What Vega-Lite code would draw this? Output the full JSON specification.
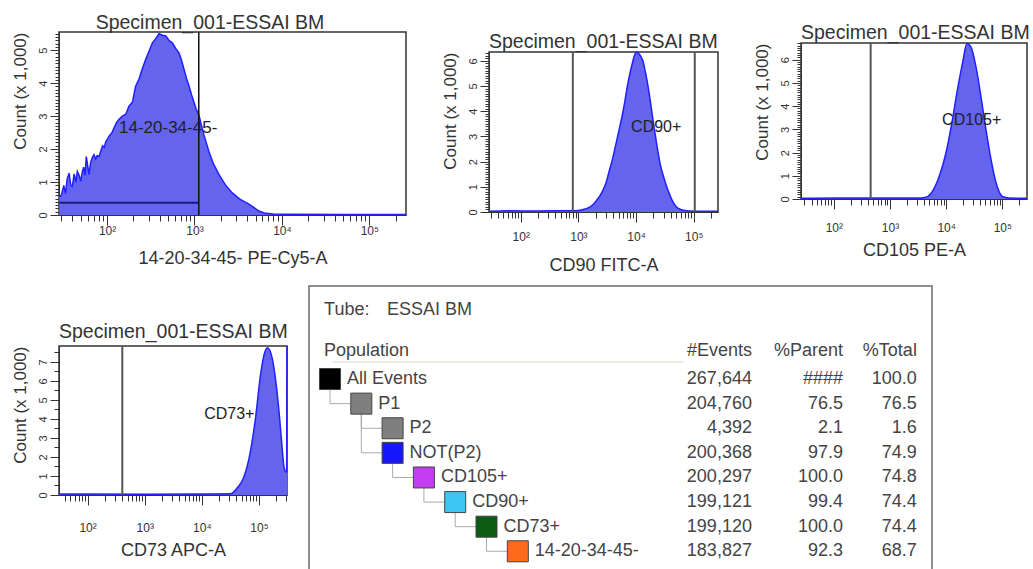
{
  "$schema": "https://vega.github.io/schema/vega-lite/v6.json",
  "background": "white",
  "padding": {"left": 10, "top": 11, "right": 0, "bottom": 0},
  "config": {
    "font": "Liberation Sans",
    "view": {"stroke": "#333333", "strokeWidth": 1.5},
    "axis": {"grid": false, "domainColor": "#333333", "tickColor": "#333333", "labelColor": "#333333", "titleColor": "#333333", "titleFontWeight": "normal", "titleFontSize": 17, "labelFont": "Liberation Sans", "titleFont": "Liberation Sans", "labelOverlap": false, "labelFlush": false},
    "axisX": {"titleFontSize": 18},
    "title": {"fontSize": 19.5, "fontWeight": "normal", "color": "#333333", "offset": -3, "baseline": "alphabetic", "font": "Liberation Sans"}
  },
  "datasets": {
    "hist": [
      {"panel": "P1", "x": 28.3, "c": 0.55}, {"panel": "P1", "x": 30, "c": 0.6}, {"panel": "P1", "x": 32, "c": 0.9}, {"panel": "P1", "x": 33.5, "c": 0.65}, {"panel": "P1", "x": 35, "c": 1.1}, {"panel": "P1", "x": 36.8, "c": 1.27}, {"panel": "P1", "x": 38.5, "c": 0.9}, {"panel": "P1", "x": 40.1, "c": 0.87}, {"panel": "P1", "x": 42, "c": 1.25}, {"panel": "P1", "x": 44, "c": 1.0}, {"panel": "P1", "x": 45.7, "c": 1.32}, {"panel": "P1", "x": 48, "c": 1.2}, {"panel": "P1", "x": 50, "c": 1.02}, {"panel": "P1", "x": 52, "c": 1.3}, {"panel": "P1", "x": 54, "c": 1.45}, {"panel": "P1", "x": 56, "c": 1.2}, {"panel": "P1", "x": 57.9, "c": 1.77}, {"panel": "P1", "x": 60, "c": 1.5}, {"panel": "P1", "x": 62.2, "c": 1.23}, {"panel": "P1", "x": 65, "c": 1.6}, {"panel": "P1", "x": 68, "c": 1.75}, {"panel": "P1", "x": 71, "c": 1.83}, {"panel": "P1", "x": 74, "c": 1.7}, {"panel": "P1", "x": 77, "c": 1.8}, {"panel": "P1", "x": 81, "c": 1.77}, {"panel": "P1", "x": 85, "c": 1.95}, {"panel": "P1", "x": 89, "c": 2.1}, {"panel": "P1", "x": 93, "c": 2.05}, {"panel": "P1", "x": 96.6, "c": 2.22}, {"panel": "P1", "x": 101, "c": 2.3}, {"panel": "P1", "x": 106, "c": 2.4}, {"panel": "P1", "x": 110, "c": 2.45}, {"panel": "P1", "x": 115, "c": 2.52}, {"panel": "P1", "x": 120, "c": 2.64}, {"panel": "P1", "x": 128, "c": 2.8}, {"panel": "P1", "x": 137, "c": 2.9}, {"panel": "P1", "x": 150, "c": 3.0}, {"panel": "P1", "x": 164, "c": 3.06}, {"panel": "P1", "x": 178, "c": 3.3}, {"panel": "P1", "x": 195, "c": 3.42}, {"panel": "P1", "x": 212, "c": 3.9}, {"panel": "P1", "x": 232, "c": 4.12}, {"panel": "P1", "x": 250, "c": 4.4}, {"panel": "P1", "x": 277, "c": 4.72}, {"panel": "P1", "x": 300, "c": 4.95}, {"panel": "P1", "x": 330, "c": 5.22}, {"panel": "P1", "x": 360, "c": 5.35}, {"panel": "P1", "x": 393, "c": 5.5}, {"panel": "P1", "x": 430, "c": 5.45}, {"panel": "P1", "x": 469, "c": 5.43}, {"panel": "P1", "x": 510, "c": 5.3}, {"panel": "P1", "x": 558, "c": 5.22}, {"panel": "P1", "x": 610, "c": 5.05}, {"panel": "P1", "x": 665, "c": 4.92}, {"panel": "P1", "x": 710, "c": 4.7}, {"panel": "P1", "x": 759, "c": 4.42}, {"panel": "P1", "x": 810, "c": 4.15}, {"panel": "P1", "x": 865, "c": 3.92}, {"panel": "P1", "x": 925, "c": 3.65}, {"panel": "P1", "x": 987, "c": 3.42}, {"panel": "P1", "x": 1050, "c": 3.2}, {"panel": "P1", "x": 1125, "c": 3.03}, {"panel": "P1", "x": 1200, "c": 2.72}, {"panel": "P1", "x": 1284, "c": 2.43}, {"panel": "P1", "x": 1370, "c": 2.18}, {"panel": "P1", "x": 1465, "c": 1.92}, {"panel": "P1", "x": 1650, "c": 1.55}, {"panel": "P1", "x": 1905, "c": 1.23}, {"panel": "P1", "x": 2250, "c": 0.92}, {"panel": "P1", "x": 2706, "c": 0.67}, {"panel": "P1", "x": 3300, "c": 0.48}, {"panel": "P1", "x": 4200, "c": 0.33}, {"panel": "P1", "x": 5460, "c": 0.12}, {"panel": "P1", "x": 6510, "c": 0.05}, {"panel": "P1", "x": 8000, "c": 0.03}, {"panel": "P1", "x": 12000, "c": 0.02}, {"panel": "P1", "x": 50000, "c": 0.015}, {"panel": "P1", "x": 263000, "c": 0.015},
      {"panel": "P2", "x": 28.3, "c": 0.03}, {"panel": "P2", "x": 60, "c": 0.05}, {"panel": "P2", "x": 200, "c": 0.04}, {"panel": "P2", "x": 500, "c": 0.05}, {"panel": "P2", "x": 800, "c": 0.05}, {"panel": "P2", "x": 1000, "c": 0.06}, {"panel": "P2", "x": 1300, "c": 0.12}, {"panel": "P2", "x": 1603, "c": 0.2}, {"panel": "P2", "x": 2000, "c": 0.42}, {"panel": "P2", "x": 2570, "c": 0.79}, {"panel": "P2", "x": 3000, "c": 1.15}, {"panel": "P2", "x": 3388, "c": 1.59}, {"panel": "P2", "x": 3900, "c": 2.1}, {"panel": "P2", "x": 4416, "c": 2.64}, {"panel": "P2", "x": 5000, "c": 3.2}, {"panel": "P2", "x": 5754, "c": 3.83}, {"panel": "P2", "x": 6400, "c": 4.4}, {"panel": "P2", "x": 7079, "c": 5.02}, {"panel": "P2", "x": 7900, "c": 5.55}, {"panel": "P2", "x": 8710, "c": 5.95}, {"panel": "P2", "x": 9500, "c": 6.25}, {"panel": "P2", "x": 10233, "c": 6.35}, {"panel": "P2", "x": 11500, "c": 6.25}, {"panel": "P2", "x": 13092, "c": 6.0}, {"panel": "P2", "x": 14500, "c": 5.55}, {"panel": "P2", "x": 16032, "c": 5.02}, {"panel": "P2", "x": 17800, "c": 4.35}, {"panel": "P2", "x": 19498, "c": 3.7}, {"panel": "P2", "x": 21700, "c": 3.0}, {"panel": "P2", "x": 23988, "c": 2.38}, {"panel": "P2", "x": 26500, "c": 1.85}, {"panel": "P2", "x": 29512, "c": 1.45}, {"panel": "P2", "x": 34000, "c": 1.0}, {"panel": "P2", "x": 38637, "c": 0.66}, {"panel": "P2", "x": 44000, "c": 0.38}, {"panel": "P2", "x": 50119, "c": 0.2}, {"panel": "P2", "x": 58000, "c": 0.11}, {"panel": "P2", "x": 66069, "c": 0.07}, {"panel": "P2", "x": 80000, "c": 0.04}, {"panel": "P2", "x": 150000, "c": 0.03}, {"panel": "P2", "x": 263000, "c": 0.03},
      {"panel": "P3", "x": 26, "c": 0.03}, {"panel": "P3", "x": 100, "c": 0.04}, {"panel": "P3", "x": 1000, "c": 0.04}, {"panel": "P3", "x": 3000, "c": 0.04}, {"panel": "P3", "x": 4365, "c": 0.08}, {"panel": "P3", "x": 5690, "c": 0.33}, {"panel": "P3", "x": 7500, "c": 0.97}, {"panel": "P3", "x": 9886, "c": 1.97}, {"panel": "P3", "x": 12880, "c": 3.4}, {"panel": "P3", "x": 15850, "c": 4.7}, {"panel": "P3", "x": 19500, "c": 5.84}, {"panel": "P3", "x": 23440, "c": 6.7}, {"panel": "P3", "x": 27540, "c": 6.55}, {"panel": "P3", "x": 33880, "c": 5.7}, {"panel": "P3", "x": 41690, "c": 4.4}, {"panel": "P3", "x": 51290, "c": 2.97}, {"panel": "P3", "x": 63100, "c": 1.69}, {"panel": "P3", "x": 77620, "c": 0.69}, {"panel": "P3", "x": 100000, "c": 0.11}, {"panel": "P3", "x": 130000, "c": 0.04}, {"panel": "P3", "x": 275000, "c": 0.03},
      {"panel": "P4", "x": 31.6, "c": 0.05}, {"panel": "P4", "x": 100, "c": 0.05}, {"panel": "P4", "x": 1000, "c": 0.04}, {"panel": "P4", "x": 10000, "c": 0.05}, {"panel": "P4", "x": 31620, "c": 0.06}, {"panel": "P4", "x": 41700, "c": 0.38}, {"panel": "P4", "x": 53700, "c": 0.91}, {"panel": "P4", "x": 70800, "c": 2.3}, {"panel": "P4", "x": 87100, "c": 4.07}, {"panel": "P4", "x": 104700, "c": 6.17}, {"panel": "P4", "x": 123000, "c": 7.4}, {"panel": "P4", "x": 141000, "c": 7.75}, {"panel": "P4", "x": 170000, "c": 7.2}, {"panel": "P4", "x": 199500, "c": 5.83}, {"panel": "P4", "x": 229000, "c": 4.07}, {"panel": "P4", "x": 257000, "c": 2.3}, {"panel": "P4", "x": 275000, "c": 1.44}, {"panel": "P4", "x": 300000, "c": 1.2}, {"panel": "P4", "x": 305000, "c": 1.3}, {"panel": "P4", "x": 309000, "c": 7.84}
    ],
    "gates": [
      {"panel": "P1", "x": 1120}, {"panel": "P2", "x": 800}, {"panel": "P2", "x": 104000}, {"panel": "P3", "x": 452}, {"panel": "P4", "x": 405}
    ],
    "bars": [
      {"panel": "P1", "x": 28.3, "x2": 1120, "c": 0.37}
    ],
    "tags": [
      {"panel": "P1", "x": 137, "c": 2.64, "label": "14-20-34-45-"},
      {"panel": "P2", "x": 8200, "c": 3.38, "label": "CD90+"},
      {"panel": "P3", "x": 8470, "c": 3.4, "label": "CD105+"},
      {"panel": "P4", "x": 10960, "c": 4.26, "label": "CD73+"}
    ],
    "pops": [
      {"pop": "All Events", "level": 0, "row": 0, "events": 267644, "pctParent": "####", "pctTotal": "100.0", "color": "#000000"},
      {"pop": "P1", "level": 1, "row": 1, "plevel": 0, "prow": 0, "events": 204760, "pctParent": "76.5", "pctTotal": "76.5", "color": "#7f7f7f"},
      {"pop": "P2", "level": 2, "row": 2, "plevel": 1, "prow": 1, "events": 4392, "pctParent": "2.1", "pctTotal": "1.6", "color": "#7f7f7f"},
      {"pop": "NOT(P2)", "level": 2, "row": 3, "plevel": 1, "prow": 1, "events": 200368, "pctParent": "97.9", "pctTotal": "74.9", "color": "#1717ff"},
      {"pop": "CD105+", "level": 3, "row": 4, "plevel": 2, "prow": 3, "events": 200297, "pctParent": "100.0", "pctTotal": "74.8", "color": "#c43df2"},
      {"pop": "CD90+", "level": 4, "row": 5, "plevel": 3, "prow": 4, "events": 199121, "pctParent": "99.4", "pctTotal": "74.4", "color": "#3ec6f2"},
      {"pop": "CD73+", "level": 5, "row": 6, "plevel": 4, "prow": 5, "events": 199120, "pctParent": "100.0", "pctTotal": "74.4", "color": "#0b5c12"},
      {"pop": "14-20-34-45-", "level": 6, "row": 7, "plevel": 5, "prow": 6, "events": 183827, "pctParent": "92.3", "pctTotal": "68.7", "color": "#ff6a1a"}
    ]
  },
  "spacing": 10,
  "vconcat": [
    {
      "spacing": 30,
      "hconcat": [
        {"spacing": 0, "vconcat": [
        {"width": 1, "height": 1, "view": {"stroke": null}, "data": {"values": []}, "mark": "point"},
        {
          "width": 347, "height": 183,
          "title": {"text": "Specimen_001-ESSAI BM", "anchor": "middle", "frame": "bounds"},
          "layer": [
            {
              "data": {"name": "hist"},
              "transform": [{"filter": "datum.panel === 'P1'"}],
              "mark": {"type": "area", "color": "#6464ee", "opacity": 1, "line": {"color": "#2020ff", "strokeWidth": 1.5}},
              "encoding": {
                "x": {"field": "x", "type": "quantitative", "scale": {"type": "log", "domain": [28.2, 263000], "nice": false},
                  "axis": {"title": "14-20-34-45- PE-Cy5-A", "values": [30,40,50,60,70,80,90,100,200,300,400,500,600,700,800,900,1000,2000,3000,4000,5000,6000,7000,8000,9000,10000,20000,30000,40000,50000,60000,70000,80000,90000,100000,200000],
                    "labelExpr": "datum.value === 100 ? '10²' : datum.value === 1000 ? '10³' : datum.value === 10000 ? '10⁴' : datum.value === 100000 ? '10⁵' : ''",
                    "tickSize": {"condition": {"test": "datum.value === 100 || datum.value === 1000 || datum.value === 10000 || datum.value === 100000", "value": 10}, "value": 6},
                    "labelFontSize": 12, "labelPadding": 0, "titlePadding": 13}},
                "y": {"field": "c", "type": "quantitative", "scale": {"domain": [0, 5.55], "nice": false},
                  "axis": {"title": "Count (x 1,000)", "titleAnchor": "end", "titlePadding": 8, "tickCount": 55,
                    "labelExpr": "datum.value % 1 === 0 ? '' + datum.value : ''", "labelAngle": -90, "labelAlign": "center", "labelBaseline": "bottom", "labelFontSize": 11, "labelPadding": 2,
                    "tickSize": {"condition": {"test": "datum.value % 1 === 0", "value": 9}, "value": 4}}}
              }
            },
            {
              "data": {"name": "bars"},
              "transform": [{"filter": "datum.panel === 'P1'"}],
              "mark": {"type": "rule", "color": "#1c1c78", "strokeWidth": 2},
              "encoding": {"x": {"field": "x", "type": "quantitative"}, "x2": {"field": "x2"}, "y": {"field": "c", "type": "quantitative"}}
            },
            {
              "data": {"name": "gates"},
              "transform": [{"filter": "datum.panel === 'P1'"}],
              "mark": {"type": "rule", "color": "#111111", "strokeWidth": 1.5},
              "encoding": {"x": {"field": "x", "type": "quantitative"}}
            },
            {
              "data": {"name": "tags"},
              "transform": [{"filter": "datum.panel === 'P1'"}],
              "mark": {"type": "text", "align": "left", "baseline": "middle", "fontSize": 17, "color": "#222222"},
              "encoding": {"x": {"field": "x", "type": "quantitative"}, "y": {"field": "c", "type": "quantitative"}, "text": {"field": "label"}}
            }
          ]
        }]},
        {"spacing": 0, "vconcat": [
        {"width": 1, "height": 19, "view": {"stroke": null}, "data": {"values": []}, "mark": "point"},
        {
          "width": 229, "height": 160,
          "title": {"text": "Specimen_001-ESSAI BM", "anchor": "start", "frame": "group"},
          "layer": [
            {
              "data": {"name": "hist"},
              "transform": [{"filter": "datum.panel === 'P2'"}],
              "mark": {"type": "area", "color": "#6464ee", "opacity": 1, "interpolate": "monotone", "line": {"color": "#2020ff", "strokeWidth": 1.5}},
              "encoding": {
                "x": {"field": "x", "type": "quantitative", "scale": {"type": "log", "domain": [28.2, 263000], "nice": false},
                  "axis": {"title": "CD90 FITC-A", "values": [30,40,50,60,70,80,90,100,200,300,400,500,600,700,800,900,1000,2000,3000,4000,5000,6000,7000,8000,9000,10000,20000,30000,40000,50000,60000,70000,80000,90000,100000,200000],
                    "labelExpr": "datum.value === 100 ? '10²' : datum.value === 1000 ? '10³' : datum.value === 10000 ? '10⁴' : datum.value === 100000 ? '10⁵' : ''",
                    "tickSize": {"condition": {"test": "datum.value === 100 || datum.value === 1000 || datum.value === 10000 || datum.value === 100000", "value": 10}, "value": 6},
                    "labelFontSize": 12, "labelPadding": 9, "titlePadding": 14}},
                "y": {"field": "c", "type": "quantitative", "scale": {"domain": [0, 6.35], "nice": false},
                  "axis": {"title": "Count (x 1,000)", "titleAnchor": "end", "titlePadding": 8, "tickCount": 63,
                    "labelExpr": "datum.value % 1 === 0 ? '' + datum.value : ''", "labelAngle": -90, "labelAlign": "center", "labelBaseline": "bottom", "labelFontSize": 11, "labelPadding": 2,
                    "tickSize": {"condition": {"test": "datum.value % 1 === 0", "value": 9}, "value": 4}}}
              }
            },
            {
              "data": {"name": "gates"},
              "transform": [{"filter": "datum.panel === 'P2'"}],
              "mark": {"type": "rule", "color": "#555555", "strokeWidth": 2},
              "encoding": {"x": {"field": "x", "type": "quantitative"}}
            },
            {
              "data": {"name": "tags"},
              "transform": [{"filter": "datum.panel === 'P2'"}],
              "mark": {"type": "text", "align": "left", "baseline": "middle", "fontSize": 16, "color": "#222222"},
              "encoding": {"x": {"field": "x", "type": "quantitative"}, "y": {"field": "c", "type": "quantitative"}, "text": {"field": "label"}}
            }
          ]
        }]},
        {"spacing": 0, "vconcat": [
        {"width": 1, "height": 11, "view": {"stroke": null}, "data": {"values": []}, "mark": "point"},
        {
          "width": 226, "height": 156,
          "title": {"text": "Specimen_001-ESSAI BM", "anchor": "start", "frame": "group"},
          "layer": [
            {
              "data": {"name": "hist"},
              "transform": [{"filter": "datum.panel === 'P3'"}],
              "mark": {"type": "area", "color": "#6464ee", "opacity": 1, "interpolate": "monotone", "line": {"color": "#2020ff", "strokeWidth": 1.5}},
              "encoding": {
                "x": {"field": "x", "type": "quantitative", "scale": {"type": "log", "domain": [26, 275000], "nice": false},
                  "axis": {"title": "CD105 PE-A", "values": [30,40,50,60,70,80,90,100,200,300,400,500,600,700,800,900,1000,2000,3000,4000,5000,6000,7000,8000,9000,10000,20000,30000,40000,50000,60000,70000,80000,90000,100000,200000],
                    "labelExpr": "datum.value === 100 ? '10²' : datum.value === 1000 ? '10³' : datum.value === 10000 ? '10⁴' : datum.value === 100000 ? '10⁵' : ''",
                    "tickSize": {"condition": {"test": "datum.value === 100 || datum.value === 1000 || datum.value === 10000 || datum.value === 100000", "value": 10}, "value": 6},
                    "labelFontSize": 12, "labelPadding": 13, "titlePadding": 8}},
                "y": {"field": "c", "type": "quantitative", "scale": {"domain": [0, 6.72], "nice": false},
                  "axis": {"title": "Count (x 1,000)", "titleAnchor": "end", "titlePadding": 8, "tickCount": 67,
                    "labelExpr": "datum.value % 1 === 0 ? '' + datum.value : ''", "labelAngle": -90, "labelAlign": "center", "labelBaseline": "bottom", "labelFontSize": 11, "labelPadding": 2,
                    "tickSize": {"condition": {"test": "datum.value % 1 === 0", "value": 9}, "value": 4}}}
              }
            },
            {
              "data": {"name": "gates"},
              "transform": [{"filter": "datum.panel === 'P3'"}],
              "mark": {"type": "rule", "color": "#555555", "strokeWidth": 2},
              "encoding": {"x": {"field": "x", "type": "quantitative"}}
            },
            {
              "data": {"name": "tags"},
              "transform": [{"filter": "datum.panel === 'P3'"}],
              "mark": {"type": "text", "align": "left", "baseline": "middle", "fontSize": 16, "color": "#222222"},
              "encoding": {"x": {"field": "x", "type": "quantitative"}, "y": {"field": "c", "type": "quantitative"}, "text": {"field": "label"}}
            }
          ]
        }]}
      ]
    },
    {
      "spacing": 17,
      "hconcat": [
        {"spacing": 0, "vconcat": [
        {"width": 1, "height": 34, "view": {"stroke": null}, "data": {"values": []}, "mark": "point"},
        {
          "width": 228, "height": 149,
          "title": {"text": "Specimen_001-ESSAI BM", "anchor": "start", "frame": "group", "offset": 1},
          "layer": [
            {
              "data": {"name": "hist"},
              "transform": [{"filter": "datum.panel === 'P4'"}],
              "mark": {"type": "area", "color": "#6464ee", "opacity": 1, "interpolate": "monotone", "line": {"color": "#2020ff", "strokeWidth": 1.5}},
              "encoding": {
                "x": {"field": "x", "type": "quantitative", "scale": {"type": "log", "domain": [31.6, 309000], "nice": false},
                  "axis": {"title": "CD73 APC-A", "values": [40,50,60,70,80,90,100,200,300,400,500,600,700,800,900,1000,2000,3000,4000,5000,6000,7000,8000,9000,10000,20000,30000,40000,50000,60000,70000,80000,90000,100000,200000,300000],
                    "labelExpr": "datum.value === 100 ? '10²' : datum.value === 1000 ? '10³' : datum.value === 10000 ? '10⁴' : datum.value === 100000 ? '10⁵' : ''",
                    "tickSize": {"condition": {"test": "datum.value === 100 || datum.value === 1000 || datum.value === 10000 || datum.value === 100000", "value": 10}, "value": 6},
                    "labelFontSize": 12, "labelPadding": 17, "titlePadding": 8}},
                "y": {"field": "c", "type": "quantitative", "scale": {"domain": [0, 7.84], "nice": false},
                  "axis": {"title": "Count (x 1,000)", "titleAnchor": "end", "titlePadding": 8, "tickCount": 16,
                    "labelExpr": "datum.value % 1 === 0 ? '' + datum.value : ''", "labelAngle": -90, "labelAlign": "center", "labelBaseline": "bottom", "labelFontSize": 11, "labelPadding": 2,
                    "tickSize": {"condition": {"test": "datum.value % 1 === 0", "value": 9}, "value": 5}}}
              }
            },
            {
              "data": {"name": "gates"},
              "transform": [{"filter": "datum.panel === 'P4'"}],
              "mark": {"type": "rule", "color": "#555555", "strokeWidth": 2},
              "encoding": {"x": {"field": "x", "type": "quantitative"}}
            },
            {
              "data": {"name": "tags"},
              "transform": [{"filter": "datum.panel === 'P4'"}],
              "mark": {"type": "text", "align": "left", "baseline": "middle", "fontSize": 16, "color": "#222222"},
              "encoding": {"x": {"field": "x", "type": "quantitative"}, "y": {"field": "c", "type": "quantitative"}, "text": {"field": "label"}}
            }
          ]
        }]},
        {
          "width": 623, "height": 300,
          "view": {"stroke": "#8f8f8f", "strokeWidth": 2},
          "data": {"name": "pops"},
          "encoding": {
            "x": {"field": "level", "type": "quantitative", "scale": {"domain": [-0.671, 19.233], "nice": false, "zero": false}, "axis": null},
            "y": {"field": "row", "type": "quantitative", "scale": {"domain": [-3.78, 8.41], "nice": false, "zero": false, "reverse": true}, "axis": null}
          },
          "layer": [
            {
              "transform": [{"filter": "datum.row === 0"}],
              "mark": {"type": "rule", "color": "#e8e6d6", "strokeWidth": 1.5},
              "encoding": {"x": {"datum": 0.06, "type": "quantitative"}, "x2": {"datum": 11.3}, "y": {"datum": -0.69, "type": "quantitative"}}
            },
            {
              "transform": [{"filter": "isValid(datum.prow)"}],
              "mark": {"type": "rule", "color": "#aaaaaa", "strokeWidth": 1},
              "encoding": {"x": {"field": "plevel", "type": "quantitative"}, "y": {"field": "prow", "type": "quantitative"}, "y2": {"field": "row"}}
            },
            {
              "transform": [{"filter": "isValid(datum.prow)"}],
              "mark": {"type": "rule", "color": "#aaaaaa", "strokeWidth": 1},
              "encoding": {"x": {"field": "plevel", "type": "quantitative"}, "x2": {"field": "level"}}
            },
            {
              "mark": {"type": "point", "shape": "square", "filled": true, "size": 441, "opacity": 1, "stroke": "#444444", "strokeWidth": 1},
              "encoding": {"color": {"field": "color", "type": "nominal", "scale": null}}
            },
            {
              "mark": {"type": "text", "align": "left", "baseline": "middle", "dx": 17, "fontSize": 18, "color": "#444444"},
              "encoding": {"text": {"field": "pop"}}
            },
            {
              "mark": {"type": "text", "align": "right", "baseline": "middle", "fontSize": 18, "color": "#444444"},
              "encoding": {"x": {"datum": 13.48, "type": "quantitative"}, "text": {"field": "events", "type": "quantitative", "format": ",d"}}
            },
            {
              "mark": {"type": "text", "align": "right", "baseline": "middle", "fontSize": 18, "color": "#444444"},
              "encoding": {"x": {"datum": 16.39, "type": "quantitative"}, "text": {"field": "pctParent"}}
            },
            {
              "mark": {"type": "text", "align": "right", "baseline": "middle", "fontSize": 18, "color": "#444444"},
              "encoding": {"x": {"datum": 18.75, "type": "quantitative"}, "text": {"field": "pctTotal"}}
            },
            {
              "transform": [{"filter": "datum.row === 0"}],
              "mark": {"type": "text", "align": "left", "baseline": "middle", "fontSize": 18, "color": "#444444"},
              "encoding": {"x": {"datum": -0.19, "type": "quantitative"}, "y": {"datum": -2.8, "type": "quantitative"}, "text": {"value": "Tube:"}}
            },
            {
              "transform": [{"filter": "datum.row === 0"}],
              "mark": {"type": "text", "align": "left", "baseline": "middle", "fontSize": 18, "color": "#444444"},
              "encoding": {"x": {"datum": 1.82, "type": "quantitative"}, "y": {"datum": -2.8, "type": "quantitative"}, "text": {"value": "ESSAI BM"}}
            },
            {
              "transform": [{"filter": "datum.row === 0"}],
              "mark": {"type": "text", "align": "left", "baseline": "middle", "fontSize": 18, "color": "#444444"},
              "encoding": {"x": {"datum": -0.19, "type": "quantitative"}, "y": {"datum": -1.14, "type": "quantitative"}, "text": {"value": "Population"}}
            },
            {
              "transform": [{"filter": "datum.row === 0"}],
              "mark": {"type": "text", "align": "right", "baseline": "middle", "fontSize": 18, "color": "#444444"},
              "encoding": {"x": {"datum": 13.48, "type": "quantitative"}, "y": {"datum": -1.14, "type": "quantitative"}, "text": {"value": "#Events"}}
            },
            {
              "transform": [{"filter": "datum.row === 0"}],
              "mark": {"type": "text", "align": "right", "baseline": "middle", "fontSize": 18, "color": "#444444"},
              "encoding": {"x": {"datum": 16.39, "type": "quantitative"}, "y": {"datum": -1.14, "type": "quantitative"}, "text": {"value": "%Parent"}}
            },
            {
              "transform": [{"filter": "datum.row === 0"}],
              "mark": {"type": "text", "align": "right", "baseline": "middle", "fontSize": 18, "color": "#444444"},
              "encoding": {"x": {"datum": 18.75, "type": "quantitative"}, "y": {"datum": -1.14, "type": "quantitative"}, "text": {"value": "%Total"}}
            }
          ]
        }
      ]
    }
  ]
}
